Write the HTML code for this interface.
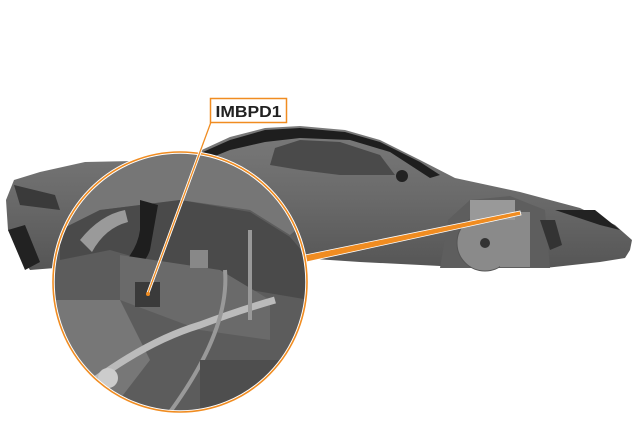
<!DOCTYPE html>
<html><head><style>
html,body{margin:0;padding:0;background:#fff;width:635px;height:440px;overflow:hidden}
</style></head><body>
<svg width="635" height="440" viewBox="0 0 635 440" xmlns="http://www.w3.org/2000/svg">
<defs>
<linearGradient id="body" x1="0" y1="0" x2="0" y2="1">
<stop offset="0" stop-color="#7a7a7a"/><stop offset="0.5" stop-color="#6a6a6a"/><stop offset="1" stop-color="#555"/>
</linearGradient>
<clipPath id="cc"><ellipse cx="180" cy="282" rx="127" ry="130"/></clipPath>
</defs>
<path d="M14,180 L40,172 L85,162 L180,160 L230,137 L265,128 L300,126 L345,130 L380,140 L420,160 L455,178 L520,192 L580,208 L615,225 L632,240 L630,250 L625,258 L600,262 L545,268 L460,267 L360,262 L300,258 L120,248 L60,260 L55,268 L30,270 L20,255 L8,230 L6,200 Z" fill="url(#body)"/>
<path d="M185,160 L230,140 L265,130 L300,128 L345,132 L380,142 L420,162 L440,175 L430,178 L390,152 L350,140 L300,138 L265,142 L230,150 L200,162 Z" fill="#1e1e1e"/>
<path d="M275,148 L300,140 L340,142 L380,155 L395,175 L340,175 L300,170 L270,165 Z" fill="#4a4a4a"/>
<circle cx="402" cy="176" r="6" fill="#222"/>
<path d="M14,185 L55,195 L60,210 L20,205 Z" fill="#3a3a3a"/>
<path d="M8,230 L25,225 L40,262 L25,270 Z" fill="#222"/>
<path d="M440,268 L448,220 L470,200 L510,196 L545,210 L550,268 Z" fill="#5e5e5e"/>
<circle cx="485" cy="243" r="28" fill="#8a8a8a" stroke="#555"/>
<circle cx="485" cy="243" r="5" fill="#333"/>
<rect x="500" y="212" width="30" height="55" fill="#8a8a8a"/>
<rect x="470" y="200" width="45" height="20" fill="#999"/>
<path d="M555,210 L595,210 L620,230 L600,225 Z" fill="#222"/>
<path d="M540,220 L555,220 L562,245 L550,250 Z" fill="#333"/>
<path d="M305,255 L520,211 L521,215 L306,262 Z" fill="#f08c21" stroke="#fff" stroke-width="0.8"/>
<ellipse cx="180" cy="282" rx="127" ry="130" fill="#5c5c5c"/>
<g clip-path="url(#cc)">
<path d="M40,140 L320,140 L320,210 L290,235 L250,210 L180,200 L100,210 L60,230 Z" fill="#767676"/>
<path d="M60,230 L100,210 L180,200 L250,212 L290,237 L310,260 L310,300 L250,290 L180,270 L110,250 L60,260 Z" fill="#4a4a4a"/>
<path d="M80,240 Q100,215 125,210 L128,222 Q105,228 92,252 Z" fill="#9a9a9a"/>
<path d="M140,200 L158,205 L150,250 Q145,265 132,268 L128,258 Q138,245 140,230 Z" fill="#1e1e1e"/>
<path d="M120,255 L220,270 L270,300 L270,340 L200,330 L120,300 Z" fill="#6a6a6a"/>
<path d="M40,300 L120,300 L150,360 L110,412 L40,412 Z" fill="#777"/>
<path d="M95,380 Q150,340 200,325 Q240,310 275,300" stroke="#bbb" stroke-width="7" fill="none"/>
<path d="M250,230 L250,320 M225,270 Q230,330 170,412" stroke="#999" stroke-width="4" fill="none"/>
<rect x="135" y="282" width="25" height="25" fill="#3a3a3a"/>
<rect x="190" y="250" width="18" height="18" fill="#888"/>
<circle cx="108" cy="378" r="10" fill="#ccc"/>
<rect x="200" y="360" width="100" height="60" fill="#4e4e4e"/>
</g>
<ellipse cx="180" cy="282" rx="127" ry="130" fill="none" stroke="#fff" stroke-width="3.5"/>
<ellipse cx="180" cy="282" rx="127" ry="130" fill="none" stroke="#f08c21" stroke-width="1.6"/>
<line x1="211" y1="122" x2="148" y2="293" stroke="#fff" stroke-width="3"/>
<line x1="211" y1="122" x2="148" y2="293" stroke="#f08c21" stroke-width="1.3"/>
<circle cx="148" cy="294" r="2" fill="#f08c21"/>
<rect x="210.5" y="98.5" width="76" height="24" fill="#fff" stroke="#f08c21" stroke-width="1.5"/>
<text x="248.5" y="117" text-anchor="middle" font-family="Liberation Sans, sans-serif" font-weight="bold" font-size="16" fill="#222" textLength="66" lengthAdjust="spacingAndGlyphs">IMBPD1</text>
</svg>
</body></html>
